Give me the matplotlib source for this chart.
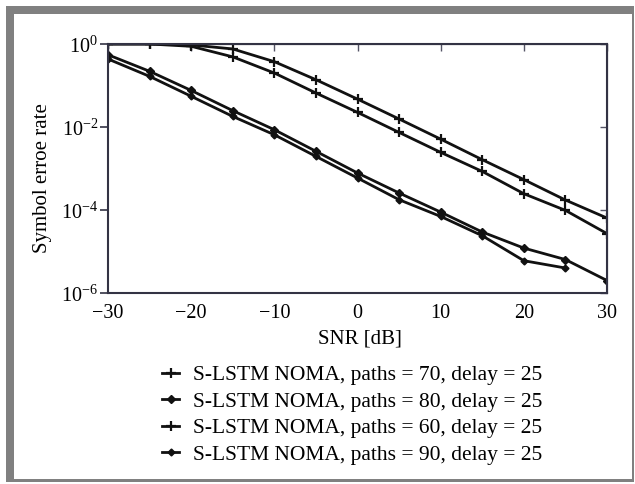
import matplotlib
matplotlib.use("Agg")
import matplotlib.pyplot as plt
from matplotlib.patches import Rectangle

plt.rcParams['font.family'] = ['Liberation Serif', 'DejaVu Serif']
plt.rcParams['mathtext.fontset'] = 'custom'
plt.rcParams['mathtext.rm'] = 'Liberation Serif'

snr = [-30, -25, -20, -15, -10, -5, 0, 5, 10, 15, 20, 25, 30]
snr_short = [-30, -25, -20, -15, -10, -5, 0, 5, 10, 15, 20, 25]

ser_p60 = [1.0, 1.0, 0.95, 0.76, 0.375, 0.138, 0.047, 0.0156, 0.0051, 0.00163, 5.4e-4, 1.74e-4, 6.4e-5]
ser_p70 = [1.0, 1.0, 0.88, 0.49, 0.20, 0.066, 0.0225, 0.0074, 0.00245, 8.5e-4, 2.47e-4, 9.8e-5, 2.7e-5]
ser_p80 = [0.55, 0.22, 0.076, 0.0248, 0.0086, 0.0026, 7.8e-4, 2.57e-4, 8.9e-5, 2.95e-5, 1.21e-5, 6.4e-6, 2.0e-6]
ser_p90 = [0.435, 0.166, 0.055, 0.018, 0.0065, 0.00196, 5.9e-4, 1.77e-4, 7.0e-5, 2.4e-5, 6.0e-6, 4.0e-6]

labels = ["S-LSTM NOMA, paths = 70, delay = 25",
          "S-LSTM NOMA, paths = 80, delay = 25",
          "S-LSTM NOMA, paths = 60, delay = 25",
          "S-LSTM NOMA, paths = 90, delay = 25"]

xticks = [-30, -20, -10, 0, 10, 20, 30]
xticklabels = ["\u221230", "\u221220", "\u221210", "0", "10", "20", "30"]
yticks = [1e0, 1e-2, 1e-4, 1e-6]
yticklabels = [r"$10^{0}$", r"$10^{-2}$", r"$10^{-4}$", r"$10^{-6}$"]

W, H = 635, 484
fig = plt.figure(figsize=(W / 100, H / 100), dpi=100)

def fx(px):
    return px / W

def fy(py):
    return 1 - py / H

# gray frame
fig.patches.append(Rectangle((fx(6), fy(482)), fx(628), 476 / H, transform=fig.transFigure,
                             facecolor='#808080', edgecolor='none', zorder=-10))
fig.patches.append(Rectangle((fx(14), fy(479)), fx(618), 465 / H, transform=fig.transFigure,
                             facecolor='white', edgecolor='none', zorder=-9))

ax = fig.add_axes([fx(108), fy(293), fx(607 - 108), (293 - 44) / H])
ax.set_zorder(5)
ax.set_facecolor('none')

lc = '#111111'
l70, = ax.plot(snr, ser_p70, color=lc, lw=2.0, marker='+', ms=7, mew=1.6)
l80, = ax.plot(snr, ser_p80, color=lc, lw=2.0, marker='D', ms=4.5, mew=1.0)
l60, = ax.plot(snr, ser_p60, color=lc, lw=2.0, marker='+', ms=7, mew=1.6)
l90, = ax.plot(snr_short, ser_p90, color=lc, lw=2.0, marker='D', ms=3.5, mew=1.0)

ax.set_yscale('log')
ax.set_xlim(-30, 30)
ax.set_ylim(1e-6, 1.0)
ax.set_xticks(xticks)
ax.set_xticklabels(xticklabels, fontsize=14.5)
ax.set_yticks(yticks)
ax.set_yticklabels(yticklabels, fontsize=14.5)
ax.minorticks_off()
ax.tick_params(axis='y', direction='out', length=6, width=1.2, color='#333344', right=False, pad=1)
ax.tick_params(axis='x', direction='in', length=0, pad=8)
for s in ax.spines.values():
    s.set_linewidth(1.5)
    s.set_color('#333344')

sx = ax.secondary_xaxis('top')
sx.set_xticks(xticks)
sx.tick_params(direction='in', length=5, width=1.0, labeltop=False, color='#555566')
sy = ax.secondary_yaxis('right')
sy.set_yticks(yticks)
sy.set_yticklabels([])
sy.minorticks_off()
sy.tick_params(direction='in', length=5, width=1.0, color='#555566')

ax.set_xlabel("SNR [dB]", fontsize=15)
ax.set_ylabel("Symbol erroe rate", fontsize=15)
ax.xaxis.set_label_coords(0.505, (293 - 339) / 249, transform=ax.transAxes)
ax.xaxis.label.set_va('center')
ax.yaxis.set_label_coords((43 - 108) / 499, 1 - (178 - 44) / 249, transform=ax.transAxes)
ax.yaxis.label.set_va('center')

fig.legend([l70, l80, l60, l90], labels, loc='upper center',
           bbox_to_anchor=(fx(352.5), fy(346)), frameon=False, fontsize=15.5,
           handlelength=0.8, handletextpad=0.65, labelspacing=0.30)

fig.savefig("out.png", dpi=100)
